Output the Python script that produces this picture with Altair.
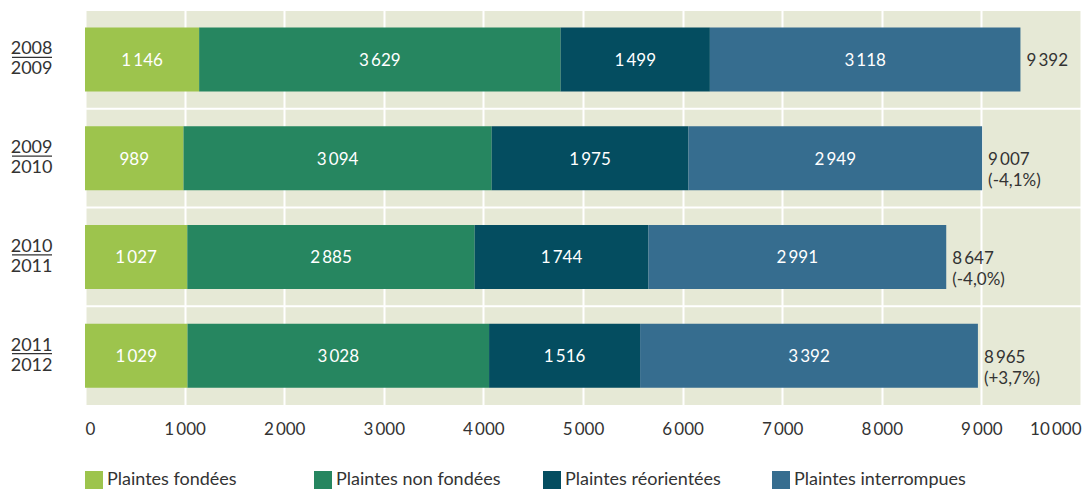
import altair as alt
import pandas as pd

# ---- data ----
periods = ["2008/2009", "2009/2010", "2010/2011", "2011/2012"]
categories = ["Plaintes fondées", "Plaintes non fondées", "Plaintes réorientées", "Plaintes interrompues"]
fondees = [1146, 989, 1027, 1029]
non_fondees = [3629, 3094, 2885, 3028]
reorientees = [1499, 1975, 1744, 1516]
interrompues = [3118, 2949, 2991, 3392]
variations = ["", "(-4,1%)", "(-4,0%)", "(+3,7%)"]
colors = ["#9dc44d", "#268660", "#044d60", "#366d8f"]
x_ticks = [0, 1000, 2000, 3000, 4000, 5000, 6000, 7000, 8000, 9000, 10000]

THIN = "\u2009"


def fmt(v):
    return f"{v:,}".replace(",", THIN)


series = [fondees, non_fondees, reorientees, interrompues]
rows = []
for i, p in enumerate(periods):
    start = 0
    for k, cat in enumerate(categories):
        v = series[k][i]
        rows.append({"period": p, "cat": cat, "order": k, "value": v,
                     "x0": start, "x1": start + v, "mid": start + v / 2, "label": fmt(v)})
        start += v
df = pd.DataFrame(rows)

tot_rows = []
for i, p in enumerate(periods):
    total = sum(s[i] for s in series)
    txt = fmt(total) + ("\n" + variations[i] if variations[i] else "")
    tot_rows.append({"period": p, "total": total, "txt": txt})
df_tot = pd.DataFrame(tot_rows)
df_sep = pd.DataFrame({"period": periods})

FONT = "Lato"
TEXTCOL = "#333333"
W, H = 996, 395

yscale = alt.Scale(paddingInner=0, paddingOuter=0)
xscale = alt.Scale(domain=[0, 10000], nice=False)

y_axis = alt.Axis(title=None, domain=False, ticks=False, grid=False,
                  labelExpr="split(datum.label, '/')", labelFontSize=18,
                  labelLineHeight=20, labelPadding=33, labelColor=TEXTCOL,
                  labelFont=FONT, labelAlign="right", labelBaseline="middle",
                  labelOffset=-10)
x_axis = alt.Axis(title=None, domain=False, ticks=False, grid=True, gridColor="white",
                  gridWidth=2, values=x_ticks, labelFontSize=17, labelColor=TEXTCOL,
                  labelFont=FONT, labelPadding=16, labelFlush=True,
                  labelExpr=f"replace(format(datum.value, ','), ',', '{THIN}')")


def ydef(**kw):
    return alt.Y("period:N", sort=periods, scale=yscale, axis=y_axis, **kw)


sep = alt.Chart(df_sep).mark_rule(color="white", strokeWidth=2).encode(
    y=ydef(bandPosition=0),
    x=alt.value(0), x2=alt.value(W),
)

bars = alt.Chart(df).mark_bar(size=64).encode(
    y=ydef(),
    x=alt.X("x0:Q", scale=xscale, axis=x_axis),
    x2="x1:Q",
    color=alt.Color("cat:N", scale=alt.Scale(domain=categories, range=colors),
                    legend=alt.Legend(title=None, orient="none", legendX=0, legendY=461,
                                      direction="horizontal", columns=4, gridAlign="all",
                                      columnPadding=35, symbolType="square", symbolSize=324,
                                      symbolStrokeWidth=0, symbolOpacity=1, labelFontSize=18,
                                      labelFont=FONT, labelColor=TEXTCOL, labelOffset=4,
                                      labelLimit=400, padding=0)),
)

seg_text = alt.Chart(df).mark_text(color="white", fontSize=17, font=FONT, dy=1.5,
                                   align="center", baseline="middle").encode(
    y=ydef(),
    x=alt.X("mid:Q", scale=xscale, axis=x_axis),
    text="label:N",
)

tot_text = alt.Chart(df_tot).mark_text(color=TEXTCOL, fontSize=17, font=FONT, dx=6, dy=2,
                                       align="left", baseline="middle", lineBreak="\n",
                                       lineHeight=21).encode(
    y=ydef(),
    x=alt.X("total:Q", scale=xscale, axis=x_axis),
    text="txt:N",
)

underline = alt.Chart(df_sep).mark_rule(color=TEXTCOL, strokeWidth=1.2, yOffset=-2).encode(
    y=ydef(),
    x=alt.value(-73), x2=alt.value(-33),
)

chart = alt.layer(sep, bars, seg_text, tot_text, underline).properties(
    width=W, height=H,
    autosize=alt.AutoSizeParams(type="none"),
    padding={"left": 85, "top": 10, "right": 5, "bottom": 86},
    background="white",
).configure_view(fill="#e6e9d6", stroke=None)

chart.save("out.html", embed_options={"renderer": "svg", "actions": False})
